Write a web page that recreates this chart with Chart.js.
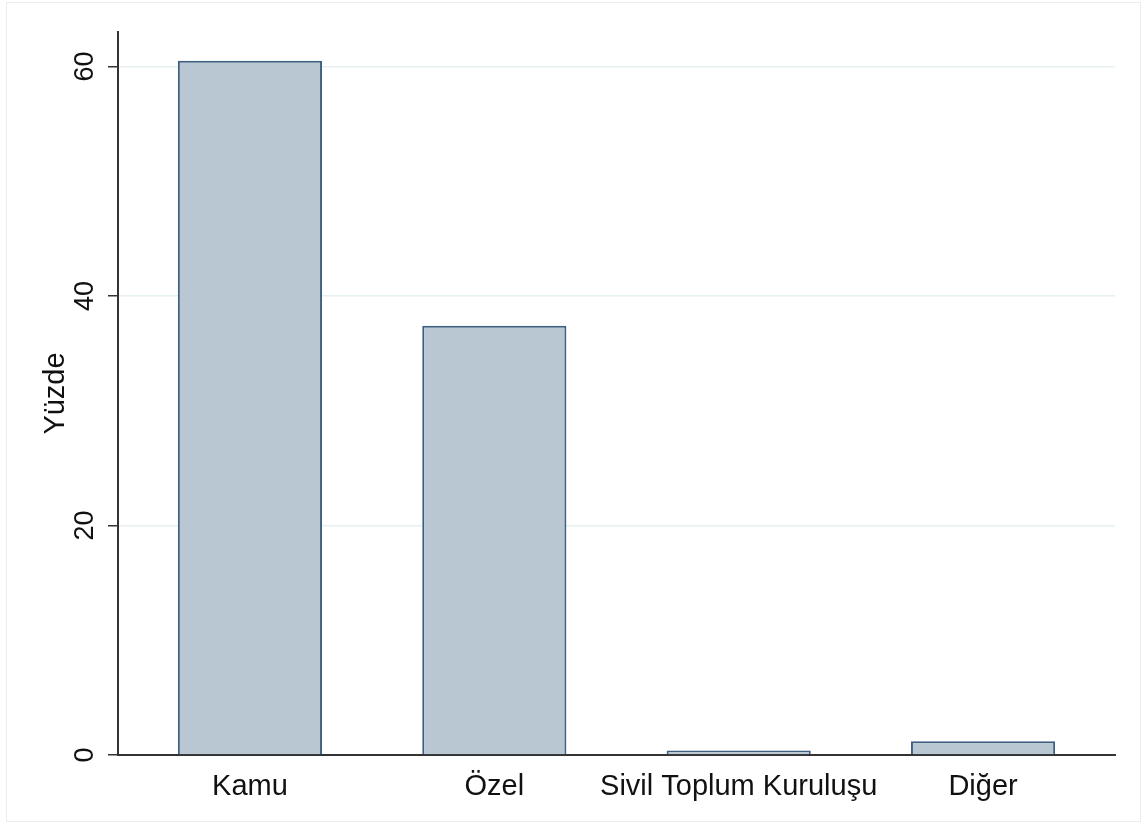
<!DOCTYPE html>
<html>
<head>
<meta charset="utf-8">
<script src="https://cdn.jsdelivr.net/npm/chart.js@4.4.1/dist/chart.umd.min.js"></script>
<style>
    html, body { margin: 0; padding: 0; background: #fff; }
    #wrap { position: relative; width: 1143px; height: 824px; }
    #frame { position: absolute; left: 6px; top: 2px; right: 2px; bottom: 2px; border: 1px solid #ececec; }
    canvas { position: absolute; left: 0; top: 0; }
</style>
</head>
<body>
<div id="wrap">
    <div id="frame"></div>
    <canvas id="chart" width="1143" height="824"></canvas>
</div>
<script>
// Dados
const categorias = ['Kamu', 'Özel', 'Sivil Toplum Kuruluşu', 'Diğer'];
const valores = [60.5, 37.4, 0.4, 1.2];
const yTicks = [0, 20, 40, 60];
const tituloY = 'Yüzde';

const FONTE = '"Liberation Sans", Arial, sans-serif';
const COR_TEXTO = '#111';
const COR_EIXO = '#333';

// Rótulos do eixo Y giram 90° (estilo Stata)
const rotulosY = {
    id: 'rotulosY',
    afterDraw(chart) {
        const { ctx, scales: { y } } = chart;
        ctx.save();
        ctx.fillStyle = COR_TEXTO;
        ctx.textAlign = 'center';
        ctx.textBaseline = 'middle';
        ctx.font = '27px ' + FONTE;
        yTicks.forEach(v => {
            ctx.save();
            ctx.translate(86, y.getPixelForValue(v));
            ctx.rotate(-Math.PI / 2);
            ctx.fillText(String(v), 0, 0);
            ctx.restore();
        });
        ctx.font = '29px ' + FONTE;
        ctx.translate(56, (chart.chartArea.top + chart.chartArea.bottom) / 2);
        ctx.rotate(-Math.PI / 2);
        ctx.fillText(tituloY, 0, 0);
        ctx.restore();
    }
};

const ctx = document.getElementById('chart').getContext('2d');
new Chart(ctx, {
    type: 'bar',
    data: {
        datasets: [{
            data: valores.map((v, i) => ({ x: i + 1, y: v })),
            backgroundColor: '#b9c7d3',
            borderColor: '#3f5f80',
            borderWidth: 2,
            barPercentage: 0.59,
            categoryPercentage: 1
        }]
    },
    options: {
        responsive: false,
        animation: false,
        layout: { padding: { left: 0, top: 32, right: 28, bottom: 0 } },
        plugins: { legend: { display: false }, tooltip: { enabled: false } },
        scales: {
            x: {
                type: 'linear',
                offset: false,
                min: 0.46,
                max: 4.54,
                afterBuildTicks: s => { s.ticks = categorias.map((c, i) => ({ value: i + 1 })); },
                afterFit: s => { s.height = 69; },
                grid: { display: false },
                border: { display: true, color: COR_EIXO, width: 2 },
                ticks: {
                    autoSkip: false,
                    maxRotation: 0,
                    padding: 7,
                    color: COR_TEXTO,
                    font: { family: FONTE, size: 29 },
                    callback: v => categorias[Math.round(v) - 1] ?? ''
                }
            },
            y: {
                min: 0,
                max: 63,
                afterBuildTicks: s => { s.ticks = yTicks.map(v => ({ value: v })); },
                afterFit: s => { s.width = 118; },
                grid: {
                    color: '#e6eff1',
                    lineWidth: 1.5,
                    tickColor: COR_EIXO,
                    tickLength: 10,
                    tickWidth: 1.5
                },
                border: { display: true, color: COR_EIXO, width: 2 },
                ticks: { display: false }
            }
        }
    },
    plugins: [rotulosY]
});
</script>
</body>
</html>
